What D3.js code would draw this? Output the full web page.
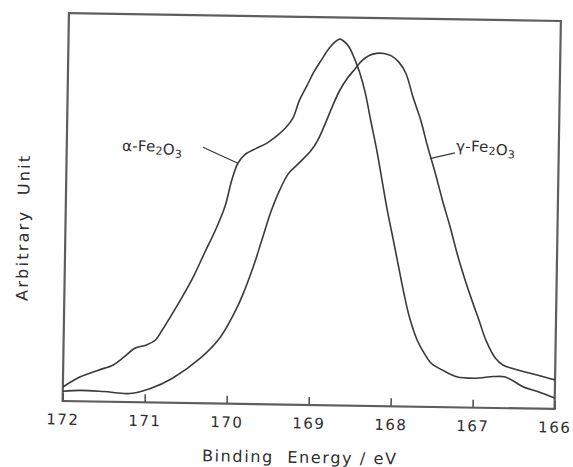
<!DOCTYPE html>
<html>
<head>
<meta charset="utf-8">
<script src="https://cdn.jsdelivr.net/npm/d3@7"></script>
<style>
  body { margin: 0; background: #fff; }
  svg { display: block; }
</style>
</head>
<body>
<svg id="chart" width="573" height="467"></svg>
<script>
// Binding-energy axis ticks (eV)
const energyTicks = [172, 171, 170, 169, 168, 167, 166];

// alpha-Fe2O3 spectrum: binding energy (eV) and intensity (arbitrary units)
const alphaEnergy = [172.00, 171.79, 171.57, 171.39, 171.26, 171.13, 170.99, 170.88, 170.80, 170.69,
  170.56, 170.43, 170.30, 170.17, 170.06, 169.98, 169.91, 169.83, 169.69, 169.56,
  169.43, 169.34, 169.25, 169.17, 169.08, 169.00, 168.91, 168.82, 168.73, 168.69,
  168.65, 168.58, 168.51, 168.44, 168.37, 168.30, 168.22, 168.15, 168.08, 168.00,
  167.93, 167.86, 167.79, 167.69, 167.60, 167.51, 167.38, 167.20, 166.98, 166.75,
  166.62, 166.53, 166.39, 166.21, 166.00];
const alphaIntensity = [3.6, 6.3, 8.1, 9.5, 11.6, 13.9, 14.8, 16.1, 18.7, 22.6,
  27.4, 32.6, 38.7, 44.7, 50.7, 57.7, 62.0, 64.2, 65.9, 67.3,
  69.4, 71.2, 73.8, 78.6, 82.4, 85.9, 89.0, 92.0, 94.0, 94.4,
  94.0, 92.5, 89.5, 85.7, 80.6, 73.7, 66.0, 58.3, 50.6, 42.9,
  36.0, 29.2, 23.2, 17.2, 13.8, 11.2, 9.6, 7.9, 7.6, 8.1,
  8.1, 7.3, 5.6, 4.4, 2.8];

// gamma-Fe2O3 spectrum
const gammaEnergy = [172.00, 171.79, 171.50, 171.18, 170.94, 170.66, 170.33, 170.09, 169.89, 169.80,
  169.70, 169.60, 169.50, 169.40, 169.29, 169.16, 169.03, 168.94, 168.85, 168.77,
  168.68, 168.59, 168.50, 168.42, 168.33, 168.24, 168.15, 168.06, 167.97, 167.88,
  167.79, 167.69, 167.60, 167.50, 167.41, 167.31, 167.22, 167.13, 167.03, 166.94,
  166.85, 166.73, 166.64, 166.53, 166.39, 166.22, 166.00];
const gammaIntensity = [2.5, 2.8, 2.6, 2.2, 3.5, 6.4, 11.6, 17.1, 24.9, 29.5,
  35.5, 42.5, 49.5, 55.0, 59.6, 62.4, 65.3, 68.3, 72.7, 77.0,
  81.3, 84.4, 86.8, 88.9, 90.3, 90.9, 90.9, 90.3, 88.8, 85.9,
  79.9, 73.9, 67.1, 60.2, 53.4, 46.5, 39.7, 33.7, 27.7, 22.6,
  17.4, 12.8, 11.1, 10.3, 9.5, 8.7, 7.5];

// Curve labels and the data point each leader line points to
const seriesNames = ["α-Fe2O3", "γ-Fe2O3"];
const leaderEnergy = [169.91, 167.57];
const leaderIntensity = [62.0, 64.0];

const axisTitleX = "Binding  Energy / eV";
const axisTitleY = "Arbitrary  Unit";

const W = 573, H = 467;
const frame = { left: 65.75, right: 557.75, top: 17, bottom: 405 };
const ink = "#2e2e2e";

const svg = d3.select("#chart");
svg.append("rect").attr("width", W).attr("height", H).attr("fill", "#fff");

// the whole plot sits slightly tilted on the page
const g = svg.append("g")
  .attr("transform", `rotate(0.93, ${(frame.left + frame.right) / 2}, ${(frame.top + frame.bottom) / 2})`);

const x = d3.scaleLinear().domain([172, 166]).range([frame.left, frame.right]);
const y = d3.scaleLinear().domain([0, 100]).range([frame.bottom, frame.top]);

// frame
g.append("rect")
  .attr("x", frame.left).attr("y", frame.top)
  .attr("width", frame.right - frame.left).attr("height", frame.bottom - frame.top)
  .attr("fill", "none").attr("stroke", "#5e5e5e").attr("stroke-width", 2.2);

// bottom axis: inward ticks, labels below
const xAxis = d3.axisBottom(x)
  .tickValues(energyTicks)
  .tickFormat(d3.format("d"))
  .tickSizeInner(-8).tickSizeOuter(0).tickPadding(13);

const axisG = g.append("g").attr("transform", `translate(0, ${frame.bottom})`).call(xAxis);
axisG.select(".domain").remove();
axisG.selectAll(".tick line").attr("stroke", "#555").attr("stroke-width", 1.6);
axisG.selectAll(".tick text")
  .attr("fill", ink)
  .style("font-family", "'DejaVu Sans', sans-serif")
  .style("font-size", "15px")
  .style("letter-spacing", "1.5px");

// axis titles
g.append("text")
  .attr("x", 303).attr("y", 463)
  .attr("text-anchor", "middle")
  .attr("fill", ink)
  .style("font-family", "'DejaVu Sans', sans-serif")
  .style("font-size", "16px")
  .style("white-space", "pre")
  .attr("textLength", 194).attr("lengthAdjust", "spacing")
  .text(axisTitleX);

g.append("text")
  .attr("transform", "translate(29, 233) rotate(-90)")
  .attr("text-anchor", "middle")
  .attr("fill", ink)
  .style("font-family", "'DejaVu Sans', sans-serif")
  .style("font-size", "16px")
  .style("white-space", "pre")
  .attr("textLength", 145).attr("lengthAdjust", "spacing")
  .text(axisTitleY);

// spectra
const line = d3.line()
  .x(d => x(d[0]))
  .y(d => y(d[1]))
  .curve(d3.curveCatmullRom.alpha(0.5));

const series = [
  d3.zip(alphaEnergy, alphaIntensity),
  d3.zip(gammaEnergy, gammaIntensity)
];

g.selectAll("path.spectrum")
  .data(series)
  .join("path")
  .attr("class", "spectrum")
  .attr("d", line)
  .attr("fill", "none")
  .attr("stroke", "#3a3a3a")
  .attr("stroke-width", 1.6)
  .attr("stroke-linejoin", "round");

// labels with subscripted digits and leader lines
const labelPos = [
  { x: 121, y: 154, lineStart: [202, 149] },
  { x: 455, y: 149, lineStart: [454, 150.5] }
];

seriesNames.forEach((name, i) => {
  const p = labelPos[i];
  const t = g.append("text")
    .attr("x", p.x).attr("y", p.y)
    .attr("fill", ink)
    .style("font-family", "'DejaVu Sans', sans-serif")
    .style("font-size", "15px")
    .style("letter-spacing", "0.3px");
  name.split(/(\d)/).filter(s => s.length).forEach(part => {
    if (/\d/.test(part)) {
      t.append("tspan").attr("dy", 3).style("font-size", "11px").text(part);
      t.append("tspan").attr("dy", -3).text("");
    } else {
      t.append("tspan").text(part);
    }
  });
  const end = [x(leaderEnergy[i]), y(leaderIntensity[i])];
  g.append("line")
    .attr("x1", p.lineStart[0]).attr("y1", p.lineStart[1])
    .attr("x2", end[0]).attr("y2", end[1])
    .attr("stroke", "#3a3a3a").attr("stroke-width", 1.3);
});
</script>
</body>
</html>
